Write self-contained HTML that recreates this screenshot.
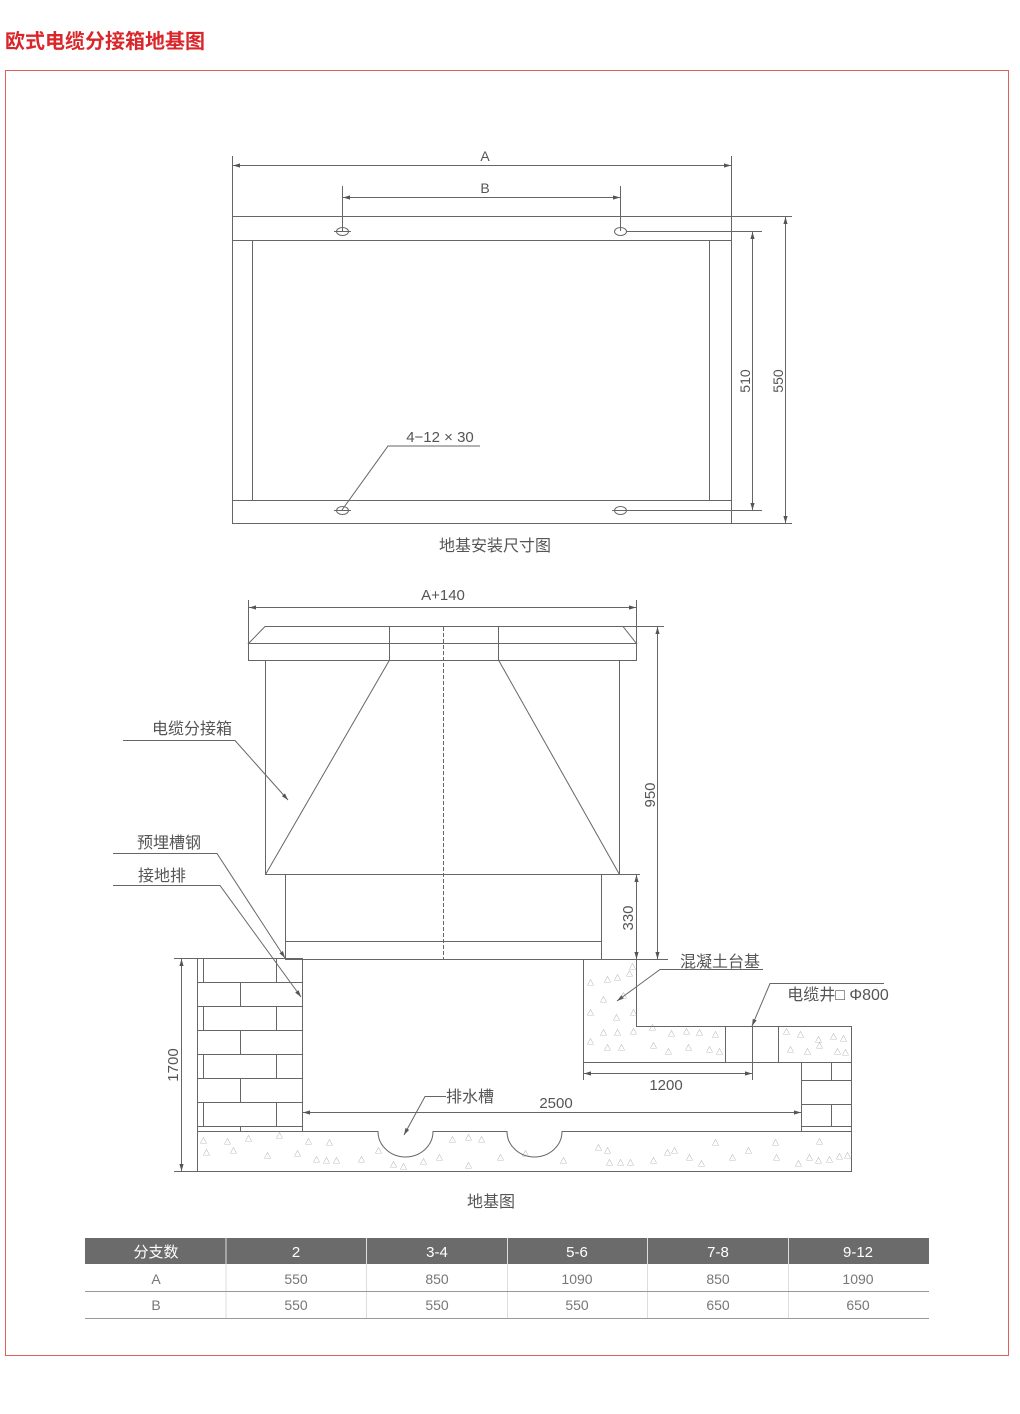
<!DOCTYPE html>
<html><head><meta charset="utf-8"><style>
body{margin:0;background:#fff;width:1020px;height:1409px;overflow:hidden;font-family:"Liberation Sans","Noto Sans CJK SC",sans-serif}
</style></head><body>
<svg width="1020" height="1409" viewBox="0 0 1020 1409" xmlns="http://www.w3.org/2000/svg" font-family="Liberation Sans, Noto Sans CJK SC, sans-serif">
<defs>
<marker id="ar" viewBox="0 0 10 10" refX="10" refY="5" markerWidth="7" markerHeight="7" orient="auto-start-reverse"><path d="M0,2 L10,5 L0,8z" fill="#555"/></marker>
</defs>
<text x="5" y="48" font-size="20" font-weight="bold" fill="#d9262b">欧式电缆分接箱地基图</text>
<rect x="5.5" y="70.5" width="1003" height="1285" fill="none" stroke="#e06060" stroke-width="1"/>
<g stroke="#666" stroke-width="1" fill="none">
<rect x="232.5" y="216.5" width="499" height="307"/>
<line x1="232" y1="240.5" x2="731" y2="240.5"/><line x1="232" y1="500.5" x2="731" y2="500.5"/>
<line x1="252.5" y1="240" x2="252.5" y2="500"/><line x1="709.5" y1="240" x2="709.5" y2="500"/>
<line x1="731" y1="216.5" x2="792" y2="216.5"/><line x1="731" y1="523.5" x2="792" y2="523.5"/>
<line x1="626" y1="231.5" x2="762" y2="231.5"/><line x1="626" y1="510.5" x2="762" y2="510.5"/>
<ellipse cx="342.5" cy="231.5" rx="6" ry="4"/><ellipse cx="620.5" cy="231.5" rx="6" ry="4"/>
<ellipse cx="342.5" cy="510.5" rx="6" ry="4"/><ellipse cx="620.5" cy="510.5" rx="6" ry="4"/>
<line x1="334" y1="231.5" x2="351" y2="231.5"/><line x1="334" y1="510.5" x2="351" y2="510.5"/><line x1="612" y1="510.5" x2="629" y2="510.5"/>
<line x1="232.5" y1="156" x2="232.5" y2="216"/><line x1="731.5" y1="156" x2="731.5" y2="216"/>
<line x1="233" y1="165.5" x2="731" y2="165.5" marker-start="url(#ar)" marker-end="url(#ar)"/>
<line x1="342.5" y1="186" x2="342.5" y2="231"/><line x1="620.5" y1="186" x2="620.5" y2="231"/>
<line x1="343" y1="197.5" x2="620" y2="197.5" marker-start="url(#ar)" marker-end="url(#ar)"/>
<line x1="752.5" y1="232" x2="752.5" y2="510" marker-start="url(#ar)" marker-end="url(#ar)"/>
<line x1="785.5" y1="217" x2="785.5" y2="523" marker-start="url(#ar)" marker-end="url(#ar)"/>
<polyline points="342,510 388,446 480,446"/>
<line x1="248.5" y1="600" x2="248.5" y2="643"/><line x1="636.5" y1="600" x2="636.5" y2="643"/>
<line x1="249" y1="607.5" x2="636" y2="607.5" marker-start="url(#ar)" marker-end="url(#ar)"/>
<polygon points="248.5,643.5 265,626.5 623,626.5 636.5,643.5"/>
<rect x="248.5" y="643.5" width="388" height="17"/>
<line x1="389.5" y1="627" x2="389.5" y2="660"/><line x1="498.5" y1="627" x2="498.5" y2="660"/>
<rect x="265.5" y="660.5" width="354" height="214"/>
<line x1="389.5" y1="660" x2="265.5" y2="874.5"/><line x1="498.5" y1="660" x2="619.5" y2="874.5"/>
<rect x="285.5" y="874.5" width="316" height="85"/>
<line x1="285" y1="941.5" x2="601" y2="941.5"/>
<line x1="443.5" y1="627" x2="443.5" y2="960" stroke-dasharray="4,2"/>
<line x1="623" y1="626.5" x2="664" y2="626.5"/>
<line x1="657.5" y1="627" x2="657.5" y2="959" marker-start="url(#ar)" marker-end="url(#ar)"/>
<line x1="636.5" y1="875" x2="636.5" y2="959" marker-start="url(#ar)" marker-end="url(#ar)"/>
<line x1="601" y1="874.5" x2="640" y2="874.5"/>
<line x1="285" y1="959.5" x2="668" y2="959.5"/>
<rect x="197.5" y="958.5" width="105" height="173"/>
<g>
<line x1="197" y1="982.5" x2="302" y2="982.5"/><line x1="197" y1="1006.5" x2="302" y2="1006.5"/><line x1="197" y1="1030.5" x2="302" y2="1030.5"/><line x1="197" y1="1054.5" x2="302" y2="1054.5"/><line x1="197" y1="1078.5" x2="302" y2="1078.5"/><line x1="197" y1="1102.5" x2="302" y2="1102.5"/><line x1="197" y1="1126.5" x2="302" y2="1126.5"/>
<line x1="203.5" y1="959" x2="203.5" y2="982"/><line x1="276.5" y1="959" x2="276.5" y2="982"/>
<line x1="240.5" y1="982" x2="240.5" y2="1006"/>
<line x1="203.5" y1="1006" x2="203.5" y2="1030"/><line x1="276.5" y1="1006" x2="276.5" y2="1030"/>
<line x1="240.5" y1="1030" x2="240.5" y2="1054"/>
<line x1="203.5" y1="1054" x2="203.5" y2="1078"/><line x1="276.5" y1="1054" x2="276.5" y2="1078"/>
<line x1="240.5" y1="1078" x2="240.5" y2="1102"/>
<line x1="203.5" y1="1102" x2="203.5" y2="1126"/><line x1="276.5" y1="1102" x2="276.5" y2="1126"/>
<line x1="240.5" y1="1126" x2="240.5" y2="1131"/>
</g>
<line x1="174" y1="958.5" x2="197" y2="958.5"/><line x1="174" y1="1171.5" x2="197" y2="1171.5"/>
<line x1="181.5" y1="959" x2="181.5" y2="1171" marker-start="url(#ar)" marker-end="url(#ar)"/>
<polyline points="583.5,960 583.5,1062.5 851.5,1062.5 851.5,1026.5 636.5,1026.5 636.5,960"/>
<line x1="725.5" y1="1026" x2="725.5" y2="1062"/><line x1="778.5" y1="1026" x2="778.5" y2="1062"/>
<rect x="801.5" y="1062.5" width="50" height="69"/>
<line x1="801" y1="1080.5" x2="851" y2="1080.5"/><line x1="801" y1="1104.5" x2="851" y2="1104.5"/><line x1="801" y1="1126.5" x2="851" y2="1126.5"/>
<line x1="831.5" y1="1062" x2="831.5" y2="1080"/><line x1="831.5" y1="1104" x2="831.5" y2="1126"/>
<line x1="583.5" y1="1063" x2="583.5" y2="1080"/><line x1="752.5" y1="1026" x2="752.5" y2="1080"/>
<line x1="584" y1="1073.5" x2="752" y2="1073.5" marker-start="url(#ar)" marker-end="url(#ar)"/>
<line x1="303" y1="1112.5" x2="801" y2="1112.5" marker-start="url(#ar)" marker-end="url(#ar)"/>
<path d="M197.5,1131.5 H378 A27,25 0 0 0 433,1131.5 H507 A27,25 0 0 0 562,1131.5 H851.5 V1171.5 H197.5 Z"/>
<polyline points="123,740.5 235,740.5 288,800" marker-end="url(#ar)"/>
<polyline points="113,853.5 217,853.5 285,958" marker-end="url(#ar)"/>
<polyline points="113,885.5 220,885.5 301,997" marker-end="url(#ar)"/>
<polyline points="763,969.5 660,969.5 617,1001" marker-end="url(#ar)"/>
<polyline points="884,983.5 770,983.5 752,1026" marker-end="url(#ar)"/>
<polyline points="446,1096.5 425,1096.5 404,1135" marker-end="url(#ar)"/>
</g>
<g fill="#888" font-size="7">
<text x="587" y="985">△</text><text x="604" y="982">△</text><text x="614" y="980">△</text><text x="626" y="976">△</text><text x="629" y="969">△</text>
<text x="600" y="1002">△</text><text x="620" y="998">△</text><text x="587" y="1015">△</text><text x="613" y="1020">△</text><text x="630" y="1015">△</text>
<text x="600" y="1035">△</text><text x="614" y="1035">△</text><text x="630" y="1034">△</text><text x="649" y="1030">△</text><text x="668" y="1036">△</text><text x="683" y="1034">△</text><text x="696" y="1035">△</text><text x="712" y="1037">△</text>
<text x="587" y="1044">△</text><text x="604" y="1050">△</text><text x="618" y="1050">△</text><text x="650" y="1048">△</text><text x="665" y="1054">△</text><text x="685" y="1050">△</text><text x="706" y="1052">△</text><text x="716" y="1054">△</text>
<text x="783" y="1034">△</text><text x="797" y="1037">△</text><text x="815" y="1042">△</text><text x="830" y="1039">△</text><text x="840" y="1041">△</text><text x="787" y="1052">△</text><text x="804" y="1054">△</text><text x="816" y="1048">△</text><text x="834" y="1054">△</text><text x="842" y="1055">△</text>
<text x="200" y="1143">△</text><text x="224" y="1144">△</text><text x="245" y="1141">△</text><text x="276" y="1138">△</text><text x="305" y="1144">△</text><text x="326" y="1145">△</text><text x="203" y="1155">△</text><text x="230" y="1153">△</text><text x="264" y="1158">△</text><text x="294" y="1156">△</text><text x="313" y="1162">△</text><text x="323" y="1163">△</text><text x="333" y="1163">△</text><text x="358" y="1162">△</text><text x="375" y="1153">△</text><text x="390" y="1167">△</text><text x="400" y="1169">△</text><text x="420" y="1164">△</text><text x="449" y="1142">△</text><text x="465" y="1140">△</text><text x="478" y="1142">△</text><text x="436" y="1160">△</text><text x="465" y="1168">△</text><text x="497" y="1160">△</text><text x="522" y="1156">△</text><text x="560" y="1163">△</text><text x="595" y="1150">△</text><text x="604" y="1153">△</text><text x="606" y="1165">△</text><text x="617" y="1165">△</text><text x="627" y="1165">△</text><text x="650" y="1163">△</text><text x="664" y="1155">△</text><text x="671" y="1153">△</text><text x="686" y="1160">△</text><text x="698" y="1166">△</text><text x="712" y="1145">△</text><text x="729" y="1160">△</text><text x="745" y="1153">△</text><text x="772" y="1145">△</text><text x="773" y="1160">△</text><text x="795" y="1166">△</text><text x="806" y="1160">△</text><text x="815" y="1163">△</text><text x="826" y="1162">△</text><text x="836" y="1159">△</text><text x="844" y="1158">△</text><text x="816" y="1144">△</text>
</g>
<g fill="#555" font-size="14">
<text x="485" y="161" text-anchor="middle">A</text>
<text x="485" y="193" text-anchor="middle">B</text>
<text x="440" y="442" text-anchor="middle" font-size="15">4−12 × 30</text>
<text x="750" y="381" text-anchor="middle" transform="rotate(-90 750 381)">510</text>
<text x="783" y="381" text-anchor="middle" transform="rotate(-90 783 381)">550</text>
<text x="495" y="551" text-anchor="middle" font-size="16">地基安装尺寸图</text>
<text x="443" y="600" text-anchor="middle" font-size="15">A+140</text>
<text x="655" y="795" text-anchor="middle" transform="rotate(-90 655 795)" font-size="15">950</text>
<text x="633" y="918" text-anchor="middle" transform="rotate(-90 633 918)" font-size="15">330</text>
<text x="178" y="1065" text-anchor="middle" transform="rotate(-90 178 1065)" font-size="15">1700</text>
<g font-size="16">
<text x="192" y="734" text-anchor="middle">电缆分接箱</text>
<text x="169" y="848" text-anchor="middle">预埋槽钢</text>
<text x="162" y="881" text-anchor="middle">接地排</text>
<text x="720" y="967" text-anchor="middle">混凝土台基</text>
<text x="838" y="1000" text-anchor="middle">电缆井□ Φ800</text>
<text x="470" y="1102" text-anchor="middle">排水槽</text>
<text x="491" y="1207" text-anchor="middle">地基图</text>
</g>
<text x="666" y="1090" text-anchor="middle" font-size="15">1200</text>
<text x="556" y="1108" text-anchor="middle" font-size="15">2500</text>
</g>
<rect x="85" y="1238" width="844" height="26" fill="#6b6b6b"/>
<g stroke="#ddd" stroke-width="1">
<line x1="226" y1="1238" x2="226" y2="1318"/><line x1="366.5" y1="1238" x2="366.5" y2="1318"/><line x1="507.5" y1="1238" x2="507.5" y2="1318"/><line x1="647.5" y1="1238" x2="647.5" y2="1318"/><line x1="788.5" y1="1238" x2="788.5" y2="1318"/>
</g>
<g stroke="#999"><line x1="85" y1="1291.5" x2="929" y2="1291.5"/><line x1="85" y1="1318.5" x2="929" y2="1318.5"/></g>
<g font-size="15" text-anchor="middle" fill="#fff">
<text x="156" y="1257">分支数</text><text x="296" y="1257">2</text><text x="437" y="1257">3-4</text><text x="577" y="1257">5-6</text><text x="718" y="1257">7-8</text><text x="858" y="1257">9-12</text>
</g>
<g font-size="14" text-anchor="middle" fill="#777">
<text x="156" y="1284">A</text><text x="296" y="1284">550</text><text x="437" y="1284">850</text><text x="577" y="1284">1090</text><text x="718" y="1284">850</text><text x="858" y="1284">1090</text>
<text x="156" y="1310">B</text><text x="296" y="1310">550</text><text x="437" y="1310">550</text><text x="577" y="1310">550</text><text x="718" y="1310">650</text><text x="858" y="1310">650</text>
</g>
</svg>
</body></html>
